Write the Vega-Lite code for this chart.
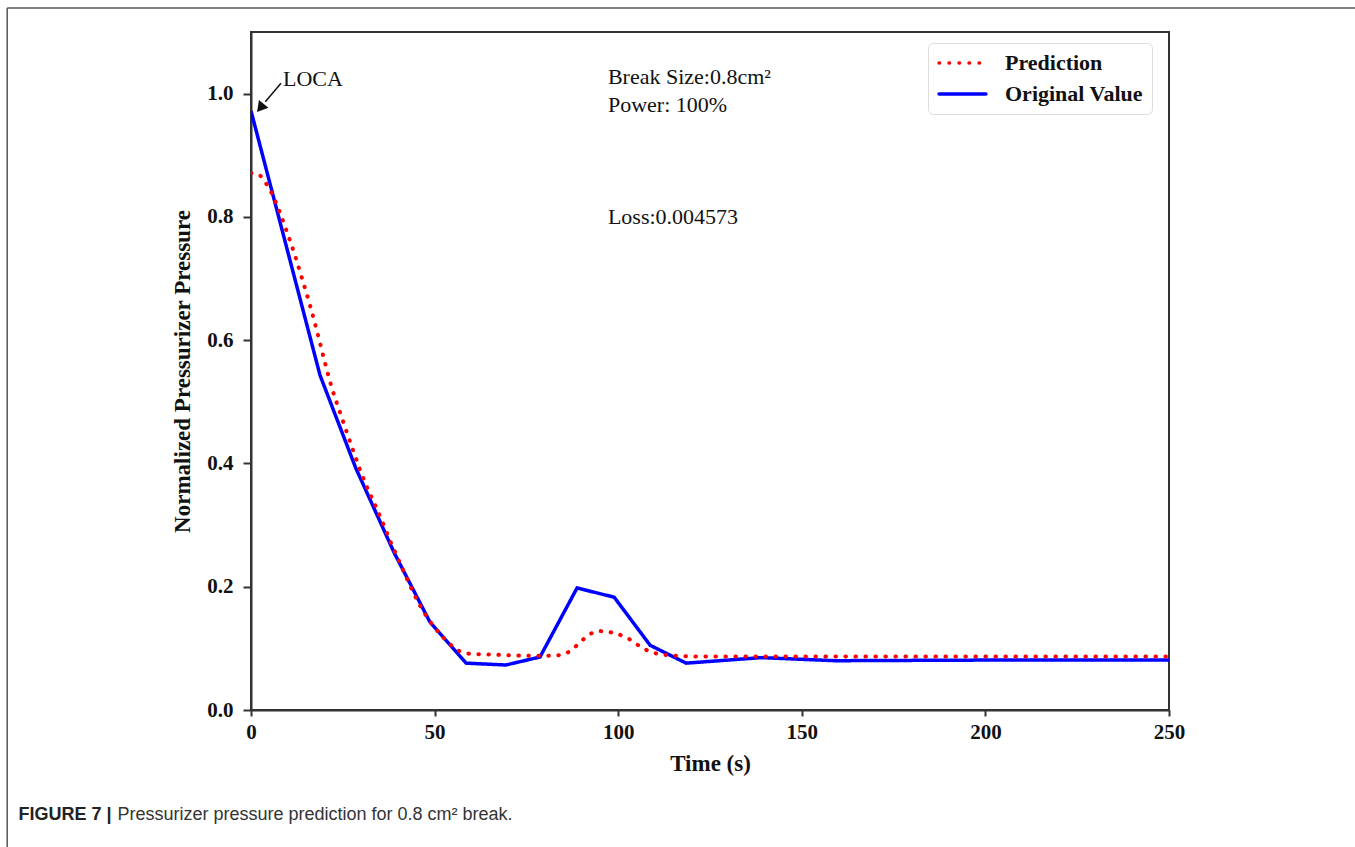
{
  "$schema": "https://vega.github.io/schema/vega-lite/v6.json",
  "width": 918,
  "height": 678,
  "autosize": {"type": "none"},
  "padding": {"left": 251, "top": 32, "right": 186, "bottom": 137},
  "background": "white",
  "config": {
    "view": {"stroke": "#333333", "strokeWidth": 2},
    "axis": {
      "labelFont": "Liberation Serif",
      "labelFontWeight": "bold",
      "labelFontSize": 21,
      "labelColor": "#111111",
      "titleFont": "Liberation Serif",
      "titleFontWeight": "bold",
      "titleFontSize": 23,
      "titleColor": "#111111",
      "domainColor": "#333333",
      "domainWidth": 2,
      "tickColor": "#333333",
      "tickWidth": 2,
      "grid": false
    }
  },
  "title": {
    "text": "FIGURE 7 |",
    "subtitle": "Pressurizer pressure prediction for 0.8 cm² break.",
    "orient": "bottom",
    "anchor": "start",
    "frame": "bounds",
    "offset": -42,
    "dx": 12,
    "font": "Liberation Sans",
    "fontSize": 18,
    "fontWeight": "bold",
    "color": "#222222",
    "subtitleFont": "Liberation Sans",
    "subtitleFontSize": 18,
    "subtitleFontWeight": "normal",
    "subtitleColor": "#333333",
    "subtitlePadding": -18,
    "encode": {"subtitle": {"update": {"dx": {"value": 111}}}}
  },
  "datasets": {
    "original": [
      {"t": 0, "v": 0.972, "series": "Original Value"},
      {"t": 18.8, "v": 0.543, "series": "Original Value"},
      {"t": 28.5, "v": 0.393, "series": "Original Value"},
      {"t": 39, "v": 0.255, "series": "Original Value"},
      {"t": 48.7, "v": 0.143, "series": "Original Value"},
      {"t": 58.6, "v": 0.076, "series": "Original Value"},
      {"t": 69.4, "v": 0.073, "series": "Original Value"},
      {"t": 78.7, "v": 0.086, "series": "Original Value"},
      {"t": 88.8, "v": 0.198, "series": "Original Value"},
      {"t": 98.9, "v": 0.183, "series": "Original Value"},
      {"t": 108.7, "v": 0.105, "series": "Original Value"},
      {"t": 118.5, "v": 0.076, "series": "Original Value"},
      {"t": 139, "v": 0.085, "series": "Original Value"},
      {"t": 159, "v": 0.08, "series": "Original Value"},
      {"t": 200, "v": 0.081, "series": "Original Value"},
      {"t": 250, "v": 0.081, "series": "Original Value"}
    ],
    "prediction": [
      {"t": 0, "v": 0.871, "series": "Prediction"},
      {"t": 2, "v": 0.869, "series": "Prediction"},
      {"t": 4, "v": 0.855, "series": "Prediction"},
      {"t": 6, "v": 0.834, "series": "Prediction"},
      {"t": 8, "v": 0.805, "series": "Prediction"},
      {"t": 10, "v": 0.772, "series": "Prediction"},
      {"t": 12, "v": 0.737, "series": "Prediction"},
      {"t": 14, "v": 0.698, "series": "Prediction"},
      {"t": 16, "v": 0.658, "series": "Prediction"},
      {"t": 18, "v": 0.614, "series": "Prediction"},
      {"t": 20, "v": 0.567, "series": "Prediction"},
      {"t": 22, "v": 0.523, "series": "Prediction"},
      {"t": 24, "v": 0.487, "series": "Prediction"},
      {"t": 26, "v": 0.452, "series": "Prediction"},
      {"t": 28, "v": 0.418, "series": "Prediction"},
      {"t": 30, "v": 0.385, "series": "Prediction"},
      {"t": 32, "v": 0.356, "series": "Prediction"},
      {"t": 34, "v": 0.33, "series": "Prediction"},
      {"t": 36, "v": 0.302, "series": "Prediction"},
      {"t": 38, "v": 0.273, "series": "Prediction"},
      {"t": 40, "v": 0.246, "series": "Prediction"},
      {"t": 42, "v": 0.219, "series": "Prediction"},
      {"t": 44, "v": 0.193, "series": "Prediction"},
      {"t": 46, "v": 0.17, "series": "Prediction"},
      {"t": 48, "v": 0.15, "series": "Prediction"},
      {"t": 50, "v": 0.134, "series": "Prediction"},
      {"t": 52, "v": 0.12, "series": "Prediction"},
      {"t": 54, "v": 0.108, "series": "Prediction"},
      {"t": 56, "v": 0.098, "series": "Prediction"},
      {"t": 58, "v": 0.093, "series": "Prediction"},
      {"t": 60, "v": 0.091, "series": "Prediction"},
      {"t": 65, "v": 0.09, "series": "Prediction"},
      {"t": 70, "v": 0.089, "series": "Prediction"},
      {"t": 75, "v": 0.088, "series": "Prediction"},
      {"t": 80, "v": 0.088, "series": "Prediction"},
      {"t": 84, "v": 0.089, "series": "Prediction"},
      {"t": 87, "v": 0.096, "series": "Prediction"},
      {"t": 90, "v": 0.112, "series": "Prediction"},
      {"t": 92, "v": 0.122, "series": "Prediction"},
      {"t": 95, "v": 0.128, "series": "Prediction"},
      {"t": 98, "v": 0.126, "series": "Prediction"},
      {"t": 100, "v": 0.123, "series": "Prediction"},
      {"t": 103, "v": 0.115, "series": "Prediction"},
      {"t": 106, "v": 0.103, "series": "Prediction"},
      {"t": 109, "v": 0.094, "series": "Prediction"},
      {"t": 112, "v": 0.09, "series": "Prediction"},
      {"t": 116, "v": 0.088, "series": "Prediction"},
      {"t": 120, "v": 0.087, "series": "Prediction"},
      {"t": 150, "v": 0.087, "series": "Prediction"},
      {"t": 200, "v": 0.087, "series": "Prediction"},
      {"t": 250, "v": 0.087, "series": "Prediction"}
    ],
    "notes": [
      {"t": 8.7, "v": 1.012, "label": "LOCA"},
      {"t": 97.2, "v": 1.0156, "label": "Break Size:0.8cm²"},
      {"t": 97.2, "v": 0.97, "label": "Power: 100%"},
      {"t": 97.2, "v": 0.788, "label": "Loss:0.004573"}
    ],
    "arrow": [
      {"t": 8.17, "v": 1.017, "t2": 3.9, "v2": 0.987, "ht": 2.85, "hv": 0.979}
    ],
    "frame": [
      {"t": -66.4, "t2": 320, "v": 1.139, "v2": 1.139},
      {"t": -66.4, "t2": -66.4, "v": 1.139, "v2": -0.2223}
    ]
  },
  "layer": [
    {
      "data": {"name": "original"},
      "mark": {"type": "line", "strokeWidth": 3.5, "interpolate": "linear", "clip": true},
      "encoding": {
        "x": {
          "field": "t",
          "type": "quantitative",
          "scale": {"domain": [0, 250], "nice": false},
          "axis": {
            "title": "Time (s)",
            "values": [0, 50, 100, 150, 200, 250],
            "tickSize": 6,
            "labelPadding": 5,
            "titlePadding": 10,
            "labelFlush": false
          }
        },
        "y": {
          "field": "v",
          "type": "quantitative",
          "scale": {"domain": [0, 1.1], "nice": false, "zero": false},
          "axis": {
            "title": "Normalized Pressurizer Pressure",
            "values": [0, 0.2, 0.4, 0.6, 0.8, 1.0],
            "format": ".1f",
            "tickSize": 8,
            "labelPadding": 10,
            "titlePadding": 12,
            "labelFlush": false
          }
        },
        "color": {
          "field": "series",
          "type": "nominal",
          "scale": {"domain": ["Prediction", "Original Value"], "range": ["#ff0000", "#0000ff"]},
          "legend": {
            "title": null,
            "orient": "none",
            "legendX": 677,
            "legendY": 11,
            "symbolType": "stroke",
            "symbolSize": 2200,
            "symbolStrokeWidth": 3.5,
            "labelFont": "Liberation Serif",
            "labelFontWeight": "bold",
            "labelFontSize": 22,
            "labelColor": "#111111",
            "labelOffset": 17,
            "clipHeight": 22,
            "rowPadding": 9,
            "padding": 9,
            "strokeColor": "#dddddd",
            "fillColor": "white",
            "cornerRadius": 5,
            "labelLimit": 300,
            "encode": {"symbols": {"update": {"strokeCap": {"value": "round"}}}}
          }
        },
        "strokeDash": {
          "field": "series",
          "type": "nominal",
          "scale": {"domain": ["Prediction", "Original Value"], "range": [[0.5, 9.5], [1, 0]]},
          "legend": null
        }
      }
    },
    {
      "data": {"name": "prediction"},
      "mark": {"type": "line", "strokeWidth": 4, "strokeCap": "round", "interpolate": "monotone", "clip": true},
      "encoding": {
        "x": {"field": "t", "type": "quantitative"},
        "y": {"field": "v", "type": "quantitative"},
        "color": {"field": "series", "type": "nominal"},
        "strokeDash": {"field": "series", "type": "nominal"}
      }
    },
    {
      "data": {"name": "frame"},
      "mark": {"type": "rule", "color": "#555555", "strokeWidth": 1.5, "clip": false},
      "encoding": {
        "x": {"field": "t", "type": "quantitative"},
        "x2": {"field": "t2"},
        "y": {"field": "v", "type": "quantitative"},
        "y2": {"field": "v2"}
      }
    },
    {
      "data": {"name": "notes"},
      "mark": {"type": "text", "font": "Liberation Serif", "fontSize": 22, "align": "left", "baseline": "alphabetic", "color": "#111111"},
      "encoding": {
        "x": {"field": "t", "type": "quantitative"},
        "y": {"field": "v", "type": "quantitative"},
        "text": {"field": "label"}
      }
    },
    {
      "data": {"name": "arrow"},
      "mark": {"type": "rule", "color": "#111111", "strokeWidth": 1.5},
      "encoding": {
        "x": {"field": "t", "type": "quantitative"},
        "y": {"field": "v", "type": "quantitative"},
        "x2": {"field": "t2"},
        "y2": {"field": "v2"}
      }
    },
    {
      "data": {"name": "arrow"},
      "mark": {"type": "point", "shape": "triangle", "filled": true, "size": 150, "angle": 219, "color": "#111111", "opacity": 1},
      "encoding": {
        "x": {"field": "ht", "type": "quantitative"},
        "y": {"field": "hv", "type": "quantitative"}
      }
    }
  ]
}
